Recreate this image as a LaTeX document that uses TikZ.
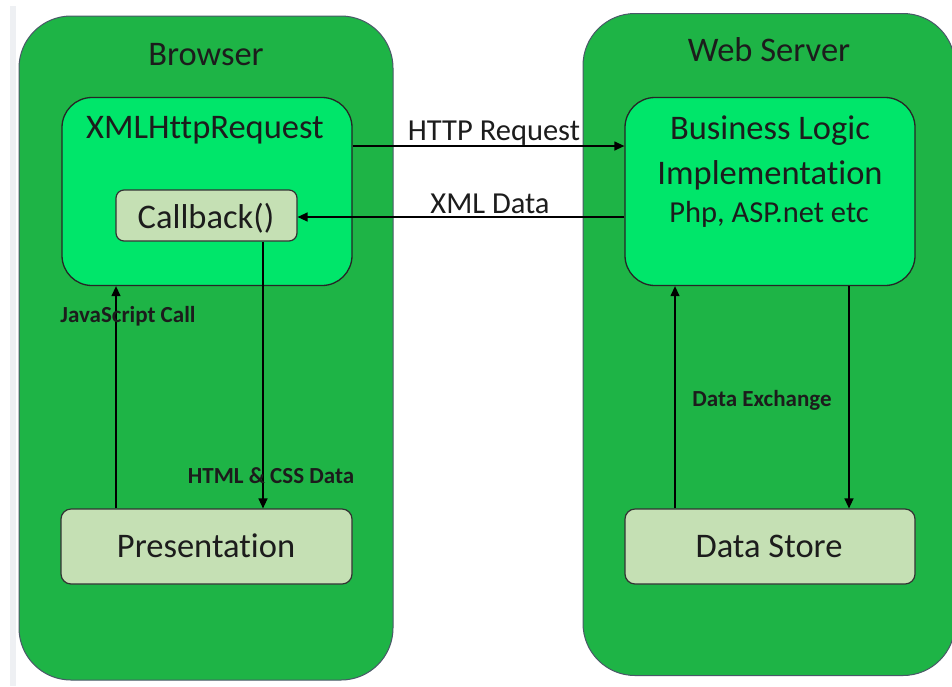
\documentclass[tikz,border=0pt]{standalone}
\usepackage{fontspec}
\setmainfont{Carlito}[Ligatures=NoCommon]
\usetikzlibrary{arrows.meta}

\definecolor{tiergreen}{HTML}{1EB446}
\definecolor{coregreen}{HTML}{00E66A}
\definecolor{palegreen}{HTML}{C5E0B4}
\definecolor{inktext}{HTML}{1C1C1C}
\definecolor{tieredge}{HTML}{4A5868}
\definecolor{stripgray}{HTML}{EEF0F3}

\tikzset{
  tier/.style={draw=tieredge, line width=1pt, fill=tiergreen,
    rounded corners=52pt, inner sep=0pt},
  core/.style={draw=black!85, line width=1.3pt, fill=coregreen,
    rounded corners=30pt, inner sep=0pt,
    minimum width=290pt, minimum height=188pt},
  part/.style={draw=black!80, line width=1.2pt, fill=palegreen,
    rounded corners=10pt, inner sep=0pt},
  bigtext/.style={text=inktext, inner sep=0pt, anchor=base,
    font=\fontsize{34.5}{40}\selectfont},
  linktext/.style={text=inktext, inner sep=0pt, anchor=base,
    font=\fontsize{30.5}{34}\selectfont},
  smalltext/.style={text=inktext, inner sep=0pt, anchor=base,
    font=\bfseries\fontsize{23}{26}\selectfont},
  flow/.style={draw=black, line width=1.3pt,
    -{Triangle[length=10pt,width=9pt]}}
}

\begin{document}
\begin{tikzpicture}[x=1pt,y=-1pt]
\useasboundingbox (0,0) rectangle (952,686);
\fill[white] (0,0) rectangle (952,686);
\fill[stripgray] (10,6) rectangle (16,686);

% the two tiers
\node[tier, minimum width=374pt, minimum height=664pt] (browser) at (206,348) {};
\node[tier, minimum width=372pt, minimum height=662pt] (server) at (769,344.5) {};
\node[bigtext] (browsertitle) at (206,65) {Browser};
\node[bigtext] (servertitle) at (769,61) {Web Server};

% browser side
\node[core] (xhr) at (207,191.5) {};
\node[bigtext] (xhrtitle) at (205,138) {XMLHttpRequest};
\node[part, minimum width=181pt, minimum height=51pt, rounded corners=8pt] (callback) at (206.5,215.5) {};
\node[bigtext] (callbacktext) at (206,228) {Callback()};
\node[part, minimum width=291pt, minimum height=75pt] (pres) at (206.5,546.5) {};
\node[bigtext] (prestext) at (206,557) {Presentation};

% server side
\node[core] (logic) at (770,191.5) {};
\node[bigtext] (logic1) at (770,139) {Business Logic};
\node[bigtext] (logic2) at (770,184) {Implementation};
\node[linktext] (logic3) at (769,222) {Php, ASP.net etc};
\node[part, minimum width=290pt, minimum height=75pt] (store) at (770,546.5) {};
\node[bigtext] (storetext) at (769,557) {Data Store};

% connector rows and columns
\coordinate (reqrow) at (0,146);
\coordinate (xmlrow) at (0,217);
\coordinate (jscol) at (116,0);
\coordinate (htmlcol) at (263,0);
\coordinate (upcol) at (675,0);
\coordinate (downcol) at (849,0);

\draw[flow] (xhr.east |- reqrow) -- (logic.west |- reqrow);
\draw[flow] (logic.west |- xmlrow) -- (callback.east |- xmlrow);
\draw[flow] (pres.north -| jscol) -- (xhr.south -| jscol);
\draw[flow] (callback.south -| htmlcol) -- (pres.north -| htmlcol);
\draw[flow] (store.north -| upcol) -- (logic.south -| upcol);
\draw[flow] (logic.south -| downcol) -- (store.north -| downcol);

% connector labels
\node[linktext] (reqlabel) at (494,140) {HTTP Request};
\node[linktext] (xmllabel) at (490,213) {XML Data};
\node[smalltext] (jslabel) at (128,322) {JavaScript Call};
\node[smalltext] (htmllabel) at (271,483) {HTML \& CSS Data};
\node[smalltext] (exlabel) at (762,406) {Data Exchange};
\end{tikzpicture}
\end{document}
